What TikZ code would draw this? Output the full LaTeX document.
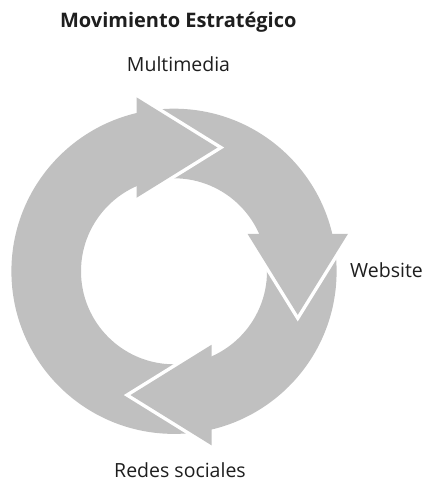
\documentclass[tikz,border=0pt]{standalone}
\usepackage{fontspec}
\setmainfont{Open Sans}
\definecolor{ringgray}{RGB}{192,192,192}
\definecolor{inkgray}{RGB}{30,30,30}
\begin{document}
\begin{tikzpicture}[x=1pt,y=1pt,
  lbl/.style={font=\fontsize{19.5}{22}\selectfont, text=inkgray, inner sep=0pt},
  ttl/.style={font=\fontsize{20}{24}\selectfont\bfseries, text=inkgray, inner sep=0pt},
  headfill/.style={fill=ringgray},
  gapline/.style={draw=white, line width=7pt, line join=miter, miter limit=20}]
\useasboundingbox (0,0) rectangle (428,481);
\coordinate (C) at (174,209.7);
% ring
\fill[ringgray, even odd rule] (C) circle (162.6) (C) circle (93);
% arrow heads: top (0), right (-90), bottom (180)
\foreach \a in {0,-90,180}{
  \begin{scope}[shift={(C)}, rotate=\a]
    \draw[gapline] (-37.5,174) -- (43.5,123.75) -- (-37.5,73.5);
    \fill[headfill] (-37.5,174) -- (43.5,123.75) -- (-37.5,73.5) -- cycle;
  \end{scope}
}
% labels
\node[ttl, anchor=base] (title) at (178.3,453.5) {Movimiento Estratégico};
\node[lbl, anchor=base] (multi) at (178.5,409.5) {Multimedia};
\node[lbl, anchor=base west] (web) at (350,203.7) {Website};
\node[lbl, anchor=base] (redes) at (180,3) {Redes sociales};
\end{tikzpicture}
\end{document}
